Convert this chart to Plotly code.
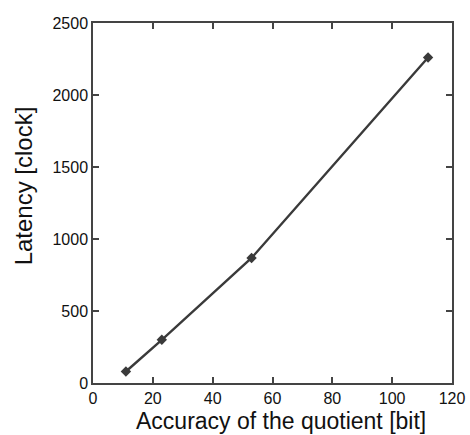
import plotly.graph_objects as go

accuracy_bits = [11, 23, 53, 112]
latency_clock = [80, 300, 868, 2260]
x_ticks = [0, 20, 40, 60, 80, 100, 120]
y_ticks = [0, 500, 1000, 1500, 2000, 2500]
x_title = "Accuracy of the quotient [bit]"
y_title = "Latency [clock]"

FONT = "Liberation Sans, Arial, sans-serif"

fig = go.Figure(go.Scatter(
    x=accuracy_bits, y=latency_clock, mode="lines+markers",
    line=dict(color="#3a3a3a", width=2.4),
    marker=dict(symbol="diamond", size=8, color="#3a3a3a"),
    showlegend=False,
))

axis_common = dict(
    showgrid=False, zeroline=False, showline=True, linecolor="#444", linewidth=1.5,
    mirror="ticks", ticks="inside", ticklen=6, tickwidth=1.5, tickcolor="#444",
    tickfont=dict(family=FONT, size=16, color="#111"), automargin=False,
)

fig.update_layout(
    width=470, height=435,
    margin=dict(l=93, r=18, t=23, b=52),
    paper_bgcolor="white", plot_bgcolor="white",
    xaxis=dict(range=[0, 120], tickvals=x_ticks, **axis_common),
    yaxis=dict(range=[0, 2500], tickvals=y_ticks, **axis_common),
    annotations=[
        dict(text=x_title, xref="paper", yref="paper", x=0.524, y=-0.1444,
             xanchor="center", yanchor="bottom", showarrow=False, borderpad=0,
             font=dict(family=FONT, size=23, color="#111")),
        dict(text=y_title, xref="paper", yref="paper", x=-0.195, y=0.549,
             xanchor="center", yanchor="middle", showarrow=False, textangle=-90,
             font=dict(family=FONT, size=24, color="#111")),
    ],
)

fig.write_html("out.html")
